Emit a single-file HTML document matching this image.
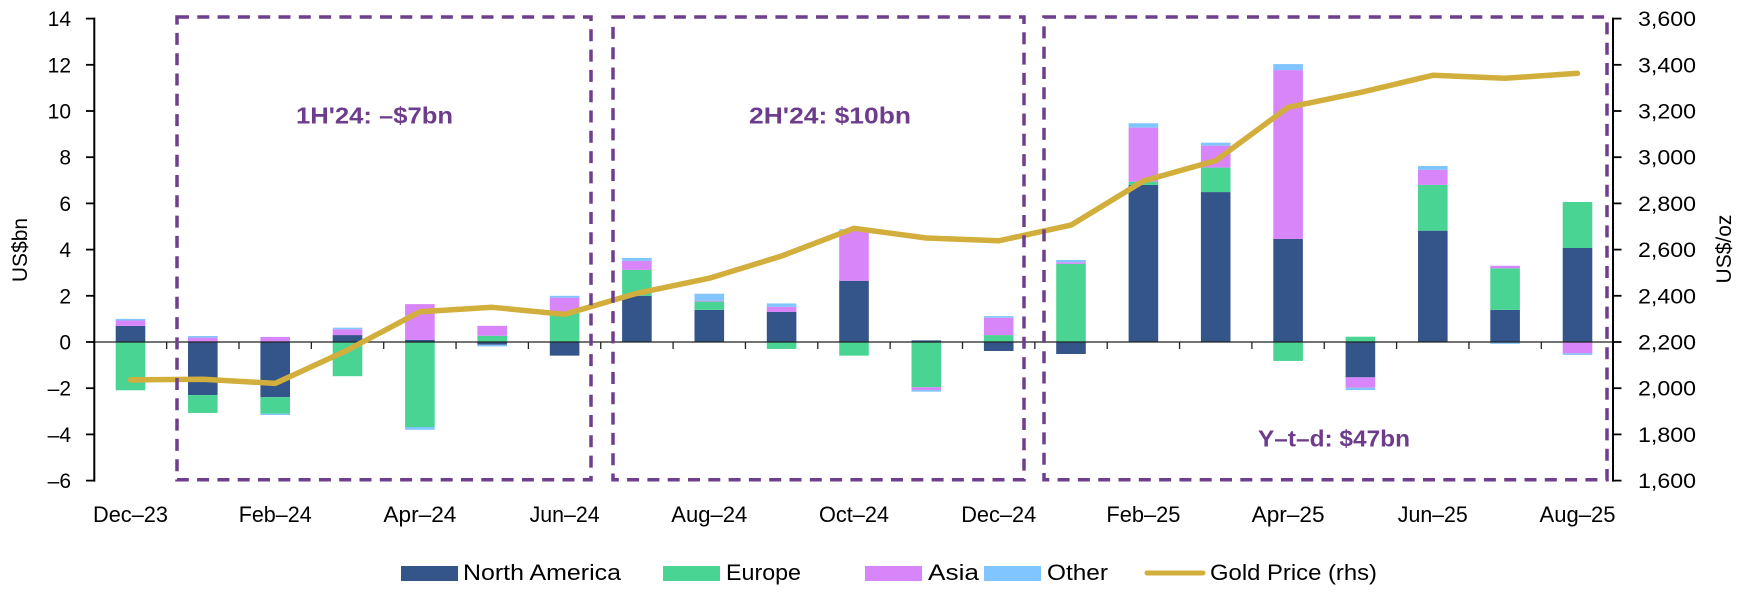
<!DOCTYPE html>
<html><head><meta charset="utf-8"><style>
html,body{margin:0;padding:0;background:#fff;}
svg{display:block;}
text{font-family:"Liberation Sans",Arial,sans-serif;fill:#000;}
</style></head><body>
<svg width="1749" height="596" viewBox="0 0 1749 596" xmlns="http://www.w3.org/2000/svg">
<rect width="1749" height="596" fill="#fff"/>
<!-- bars -->
<g>
<!-- i0 Dec-23 -->
<rect x="115.7" y="325.83" width="29.6" height="16.17" fill="#33558A"/>
<rect x="115.7" y="320.52" width="29.6" height="5.31" fill="#D885F9"/>
<rect x="115.7" y="318.9" width="29.6" height="1.62" fill="#80C5FE"/>
<rect x="115.7" y="342" width="29.6" height="48.28" fill="#49D494"/>
<!-- i1 Jan-24 -->
<rect x="188.0" y="342" width="29.6" height="53.13" fill="#33558A"/>
<rect x="188.0" y="395.13" width="29.6" height="17.79" fill="#49D494"/>
<rect x="188.0" y="337.61" width="29.6" height="4.39" fill="#D885F9"/>
<rect x="188.0" y="335.99" width="29.6" height="1.62" fill="#80C5FE"/>
<!-- i2 Feb-24 -->
<rect x="260.4" y="342" width="29.6" height="55.21" fill="#33558A"/>
<rect x="260.4" y="397.21" width="29.6" height="16.4" fill="#49D494"/>
<rect x="260.4" y="413.61" width="29.6" height="1.39" fill="#80C5FE"/>
<rect x="260.4" y="336.92" width="29.6" height="5.08" fill="#D885F9"/>
<!-- i3 Mar-24 -->
<rect x="332.7" y="335.07" width="29.6" height="6.93" fill="#33558A"/>
<rect x="332.7" y="329.29" width="29.6" height="5.78" fill="#D885F9"/>
<rect x="332.7" y="327.67" width="29.6" height="1.62" fill="#80C5FE"/>
<rect x="332.7" y="342" width="29.6" height="34.19" fill="#49D494"/>
<!-- i4 Apr-24 -->
<rect x="405.1" y="339.92" width="29.6" height="2.08" fill="#33558A"/>
<rect x="405.1" y="304.11" width="29.6" height="35.81" fill="#D885F9"/>
<rect x="405.1" y="342" width="29.6" height="85.01" fill="#49D494"/>
<rect x="405.1" y="427.01" width="29.6" height="2.77" fill="#80C5FE"/>
<!-- i5 May-24 -->
<rect x="477.4" y="335.76" width="29.6" height="6.24" fill="#49D494"/>
<rect x="477.4" y="325.83" width="29.6" height="9.93" fill="#D885F9"/>
<rect x="477.4" y="342" width="29.6" height="2.77" fill="#33558A"/>
<rect x="477.4" y="344.77" width="29.6" height="1.62" fill="#80C5FE"/>
<!-- i6 Jun-24 -->
<rect x="549.8" y="311.97" width="29.6" height="30.03" fill="#49D494"/>
<rect x="549.8" y="297.65" width="29.6" height="14.32" fill="#D885F9"/>
<rect x="549.8" y="295.8" width="29.6" height="1.85" fill="#80C5FE"/>
<rect x="549.8" y="342" width="29.6" height="13.63" fill="#33558A"/>
<!-- i7 Jul-24 -->
<rect x="622.1" y="295.8" width="29.6" height="46.2" fill="#33558A"/>
<rect x="622.1" y="269.93" width="29.6" height="25.87" fill="#49D494"/>
<rect x="622.1" y="260.92" width="29.6" height="9.01" fill="#D885F9"/>
<rect x="622.1" y="257.92" width="29.6" height="3.0" fill="#80C5FE"/>
<!-- i8 Aug-24 -->
<rect x="694.5" y="309.89" width="29.6" height="32.11" fill="#33558A"/>
<rect x="694.5" y="301.57" width="29.6" height="8.32" fill="#49D494"/>
<rect x="694.5" y="300.65" width="29.6" height="0.92" fill="#D885F9"/>
<rect x="694.5" y="293.72" width="29.6" height="6.93" fill="#80C5FE"/>
<!-- i9 Sep-24 -->
<rect x="766.8" y="311.97" width="29.6" height="30.03" fill="#33558A"/>
<rect x="766.8" y="306.89" width="29.6" height="5.08" fill="#D885F9"/>
<rect x="766.8" y="303.42" width="29.6" height="3.47" fill="#80C5FE"/>
<rect x="766.8" y="342" width="29.6" height="6.93" fill="#49D494"/>
<!-- i10 Oct-24 -->
<rect x="839.2" y="280.78" width="29.6" height="61.22" fill="#33558A"/>
<rect x="839.2" y="230.65" width="29.6" height="50.13" fill="#D885F9"/>
<rect x="839.2" y="229.26" width="29.6" height="1.39" fill="#80C5FE"/>
<rect x="839.2" y="342" width="29.6" height="13.63" fill="#49D494"/>
<!-- i11 Nov-24 -->
<rect x="911.5" y="340.38" width="29.6" height="1.62" fill="#33558A"/>
<rect x="911.5" y="342" width="29.6" height="45.28" fill="#49D494"/>
<rect x="911.5" y="387.28" width="29.6" height="2.77" fill="#D885F9"/>
<rect x="911.5" y="390.05" width="29.6" height="1.62" fill="#80C5FE"/>
<!-- i12 Dec-24 -->
<rect x="983.9" y="335.07" width="29.6" height="6.93" fill="#49D494"/>
<rect x="983.9" y="317.74" width="29.6" height="17.33" fill="#D885F9"/>
<rect x="983.9" y="316.12" width="29.6" height="1.62" fill="#80C5FE"/>
<rect x="983.9" y="342" width="29.6" height="9.01" fill="#33558A"/>
<!-- i13 Jan-25 -->
<rect x="1056.2" y="263.92" width="29.6" height="78.08" fill="#49D494"/>
<rect x="1056.2" y="262.3" width="29.6" height="1.62" fill="#D885F9"/>
<rect x="1056.2" y="259.99" width="29.6" height="2.31" fill="#80C5FE"/>
<rect x="1056.2" y="342" width="29.6" height="12.01" fill="#33558A"/>
<!-- i14 Feb-25 -->
<rect x="1128.6" y="184.92" width="29.6" height="157.08" fill="#33558A"/>
<rect x="1128.6" y="181.69" width="29.6" height="3.23" fill="#49D494"/>
<rect x="1128.6" y="127.64" width="29.6" height="54.05" fill="#D885F9"/>
<rect x="1128.6" y="123.25" width="29.6" height="4.39" fill="#80C5FE"/>
<!-- i15 Mar-25 -->
<rect x="1200.9" y="192.08" width="29.6" height="149.92" fill="#33558A"/>
<rect x="1200.9" y="167.59" width="29.6" height="24.49" fill="#49D494"/>
<rect x="1200.9" y="145.64" width="29.6" height="21.95" fill="#D885F9"/>
<rect x="1200.9" y="142.64" width="29.6" height="3.0" fill="#80C5FE"/>
<!-- i16 Apr-25 -->
<rect x="1273.3" y="238.97" width="29.6" height="103.03" fill="#33558A"/>
<rect x="1273.3" y="70.11" width="29.6" height="168.86" fill="#D885F9"/>
<rect x="1273.3" y="64.1" width="29.6" height="6.01" fill="#80C5FE"/>
<rect x="1273.3" y="342" width="29.6" height="18.94" fill="#49D494"/>
<!-- i17 May-25 -->
<rect x="1345.6" y="336.69" width="29.6" height="5.31" fill="#49D494"/>
<rect x="1345.6" y="342" width="29.6" height="35.34" fill="#33558A"/>
<rect x="1345.6" y="377.34" width="29.6" height="10.4" fill="#D885F9"/>
<rect x="1345.6" y="387.74" width="29.6" height="2.31" fill="#80C5FE"/>
<!-- i18 Jun-25 -->
<rect x="1418.0" y="230.66" width="29.6" height="111.34" fill="#33558A"/>
<rect x="1418.0" y="184.92" width="29.6" height="45.74" fill="#49D494"/>
<rect x="1418.0" y="169.9" width="29.6" height="15.02" fill="#D885F9"/>
<rect x="1418.0" y="165.97" width="29.6" height="3.93" fill="#80C5FE"/>
<!-- i19 Jul-25 -->
<rect x="1490.3" y="309.89" width="29.6" height="32.11" fill="#33558A"/>
<rect x="1490.3" y="268.31" width="29.6" height="41.58" fill="#49D494"/>
<rect x="1490.3" y="265.77" width="29.6" height="2.54" fill="#D885F9"/>
<rect x="1490.3" y="342" width="29.6" height="1.85" fill="#80C5FE"/>
<!-- i20 Aug-25 -->
<rect x="1562.7" y="247.98" width="29.6" height="94.02" fill="#33558A"/>
<rect x="1562.7" y="202.01" width="29.6" height="45.97" fill="#49D494"/>
<rect x="1562.7" y="342" width="29.6" height="11.32" fill="#D885F9"/>
<rect x="1562.7" y="353.32" width="29.6" height="1.62" fill="#80C5FE"/>
</g>

<!-- zero line and category ticks -->
<line x1="94.3" y1="342" x2="1613" y2="342" stroke="#222" stroke-width="1.3"/>
<g stroke="#222" stroke-width="1.3">
<line x1="166.65" y1="342" x2="166.65" y2="349"/>
<line x1="239.0" y1="342" x2="239.0" y2="349"/>
<line x1="311.35" y1="342" x2="311.35" y2="349"/>
<line x1="383.7" y1="342" x2="383.7" y2="349"/>
<line x1="456.05" y1="342" x2="456.05" y2="349"/>
<line x1="528.4" y1="342" x2="528.4" y2="349"/>
<line x1="600.75" y1="342" x2="600.75" y2="349"/>
<line x1="673.1" y1="342" x2="673.1" y2="349"/>
<line x1="745.45" y1="342" x2="745.45" y2="349"/>
<line x1="817.8" y1="342" x2="817.8" y2="349"/>
<line x1="890.15" y1="342" x2="890.15" y2="349"/>
<line x1="962.5" y1="342" x2="962.5" y2="349"/>
<line x1="1034.85" y1="342" x2="1034.85" y2="349"/>
<line x1="1107.2" y1="342" x2="1107.2" y2="349"/>
<line x1="1179.55" y1="342" x2="1179.55" y2="349"/>
<line x1="1251.9" y1="342" x2="1251.9" y2="349"/>
<line x1="1324.25" y1="342" x2="1324.25" y2="349"/>
<line x1="1396.6" y1="342" x2="1396.6" y2="349"/>
<line x1="1468.95" y1="342" x2="1468.95" y2="349"/>
<line x1="1541.3" y1="342" x2="1541.3" y2="349"/>
</g>

<!-- gold line -->
<polyline fill="none" stroke="#D2AE3C" stroke-width="5.5" stroke-linejoin="round" stroke-linecap="round"
points="130.5,379.9 202.8,379.2 275.2,383.4 347.5,350.1 419.9,311.7 492.2,307.3 564.6,314.3 636.9,293.3 709.3,278.2 781.6,256.0 854.0,228.3 926.3,238.0 998.7,240.8 1071.0,225.1 1143.4,181.0 1215.7,160.6 1288.1,107.3 1360.4,92.4 1432.8,75.3 1505.1,78.3 1577.5,73.3"/>

<!-- dashed boxes -->
<g fill="none" stroke="#6E3F8C" stroke-width="3.5" stroke-dasharray="12 8.3">
<rect x="177" y="17" width="414" height="462.7"/>
<rect x="613" y="17" width="411" height="462.7"/>
<rect x="1044" y="17" width="563" height="462.7"/>
</g>

<!-- axes -->
<g stroke="#000" stroke-width="2">
<line x1="94.3" y1="17.6" x2="94.3" y2="481.6"/>
<line x1="1613" y1="17.6" x2="1613" y2="481.6"/>
</g>
<g stroke="#000" stroke-width="1.8">
<line x1="86" y1="18.6" x2="94.3" y2="18.6"/>
<line x1="86" y1="64.8" x2="94.3" y2="64.8"/>
<line x1="86" y1="111" x2="94.3" y2="111"/>
<line x1="86" y1="157.2" x2="94.3" y2="157.2"/>
<line x1="86" y1="203.4" x2="94.3" y2="203.4"/>
<line x1="86" y1="249.6" x2="94.3" y2="249.6"/>
<line x1="86" y1="295.8" x2="94.3" y2="295.8"/>
<line x1="86" y1="342" x2="94.3" y2="342"/>
<line x1="86" y1="388.2" x2="94.3" y2="388.2"/>
<line x1="86" y1="434.4" x2="94.3" y2="434.4"/>
<line x1="86" y1="480.6" x2="94.3" y2="480.6"/>
<line x1="1613" y1="18.6" x2="1621.5" y2="18.6"/>
<line x1="1613" y1="64.8" x2="1621.5" y2="64.8"/>
<line x1="1613" y1="111" x2="1621.5" y2="111"/>
<line x1="1613" y1="157.2" x2="1621.5" y2="157.2"/>
<line x1="1613" y1="203.4" x2="1621.5" y2="203.4"/>
<line x1="1613" y1="249.6" x2="1621.5" y2="249.6"/>
<line x1="1613" y1="295.8" x2="1621.5" y2="295.8"/>
<line x1="1613" y1="342" x2="1621.5" y2="342"/>
<line x1="1613" y1="388.2" x2="1621.5" y2="388.2"/>
<line x1="1613" y1="434.4" x2="1621.5" y2="434.4"/>
<line x1="1613" y1="480.6" x2="1621.5" y2="480.6"/>
</g>

<!-- left tick labels -->
<g font-size="21" text-anchor="end">
<text x="71" y="26.1">14</text>
<text x="71" y="72.3">12</text>
<text x="71" y="118.5">10</text>
<text x="71" y="164.7">8</text>
<text x="71" y="210.9">6</text>
<text x="71" y="257.1">4</text>
<text x="71" y="303.3">2</text>
<text x="71" y="349.5">0</text>
<text x="71" y="395.7">–2</text>
<text x="71" y="441.9">–4</text>
<text x="71" y="488.1">–6</text>
</g>
<!-- right tick labels -->
<g font-size="21" text-anchor="start">
<text x="1638" y="26.1" textLength="58" lengthAdjust="spacingAndGlyphs">3,600</text>
<text x="1638" y="72.3" textLength="58" lengthAdjust="spacingAndGlyphs">3,400</text>
<text x="1638" y="118.5" textLength="58" lengthAdjust="spacingAndGlyphs">3,200</text>
<text x="1638" y="164.7" textLength="58" lengthAdjust="spacingAndGlyphs">3,000</text>
<text x="1638" y="210.9" textLength="58" lengthAdjust="spacingAndGlyphs">2,800</text>
<text x="1638" y="257.1" textLength="58" lengthAdjust="spacingAndGlyphs">2,600</text>
<text x="1638" y="303.3" textLength="58" lengthAdjust="spacingAndGlyphs">2,400</text>
<text x="1638" y="349.5" textLength="58" lengthAdjust="spacingAndGlyphs">2,200</text>
<text x="1638" y="395.7" textLength="58" lengthAdjust="spacingAndGlyphs">2,000</text>
<text x="1638" y="441.9" textLength="58" lengthAdjust="spacingAndGlyphs">1,800</text>
<text x="1638" y="488.1" textLength="58" lengthAdjust="spacingAndGlyphs">1,600</text>
</g>

<!-- axis titles -->
<text font-size="21" text-anchor="middle" transform="translate(27,250) rotate(-90)">US$bn</text>
<text font-size="21" text-anchor="middle" transform="translate(1731,249) rotate(-90)">US$/oz</text>

<!-- x labels -->
<g font-size="22" text-anchor="middle" lengthAdjust="spacingAndGlyphs">
<text x="130.5" y="522" textLength="75" lengthAdjust="spacingAndGlyphs">Dec–23</text>
<text x="275.2" y="522" textLength="73" lengthAdjust="spacingAndGlyphs">Feb–24</text>
<text x="419.9" y="522" textLength="73" lengthAdjust="spacingAndGlyphs">Apr–24</text>
<text x="564.6" y="522" textLength="70" lengthAdjust="spacingAndGlyphs">Jun–24</text>
<text x="709.3" y="522" textLength="76" lengthAdjust="spacingAndGlyphs">Aug–24</text>
<text x="854.0" y="522" textLength="70" lengthAdjust="spacingAndGlyphs">Oct–24</text>
<text x="998.7" y="522" textLength="75" lengthAdjust="spacingAndGlyphs">Dec–24</text>
<text x="1143.4" y="522" textLength="74" lengthAdjust="spacingAndGlyphs">Feb–25</text>
<text x="1288.1" y="522" textLength="73" lengthAdjust="spacingAndGlyphs">Apr–25</text>
<text x="1432.8" y="522" textLength="70" lengthAdjust="spacingAndGlyphs">Jun–25</text>
<text x="1577.5" y="522" textLength="76" lengthAdjust="spacingAndGlyphs">Aug–25</text>
</g>

<!-- annotations -->
<g font-size="23" font-weight="bold" style="fill:#6E3C8C">
<text x="296" y="123.3" textLength="157" lengthAdjust="spacingAndGlyphs" style="fill:#6E3C8C">1H'24: –$7bn</text>
<text x="749" y="123.3" textLength="162" lengthAdjust="spacingAndGlyphs" style="fill:#6E3C8C">2H'24: $10bn</text>
<text x="1258" y="446.7" textLength="152" lengthAdjust="spacingAndGlyphs" style="fill:#6E3C8C">Y–t–d: $47bn</text>
</g>

<!-- legend -->
<rect x="401" y="566" width="57" height="15" fill="#33558A"/>
<text x="463" y="580" font-size="22" textLength="158" lengthAdjust="spacingAndGlyphs">North America</text>
<rect x="663" y="566" width="57" height="15" fill="#49D494"/>
<text x="726" y="580" font-size="22" textLength="75" lengthAdjust="spacingAndGlyphs">Europe</text>
<rect x="865" y="566" width="57" height="15" fill="#D885F9"/>
<text x="928" y="580" font-size="22" textLength="51" lengthAdjust="spacingAndGlyphs">Asia</text>
<rect x="984" y="566" width="57" height="15" fill="#80C5FE"/>
<text x="1047" y="580" font-size="22" textLength="61" lengthAdjust="spacingAndGlyphs">Other</text>
<line x1="1147" y1="573" x2="1203" y2="573" stroke="#D2AE3C" stroke-width="5" stroke-linecap="round"/>
<text x="1210" y="580" font-size="22" textLength="167" lengthAdjust="spacingAndGlyphs">Gold Price (rhs)</text>
</svg>
</body></html>
